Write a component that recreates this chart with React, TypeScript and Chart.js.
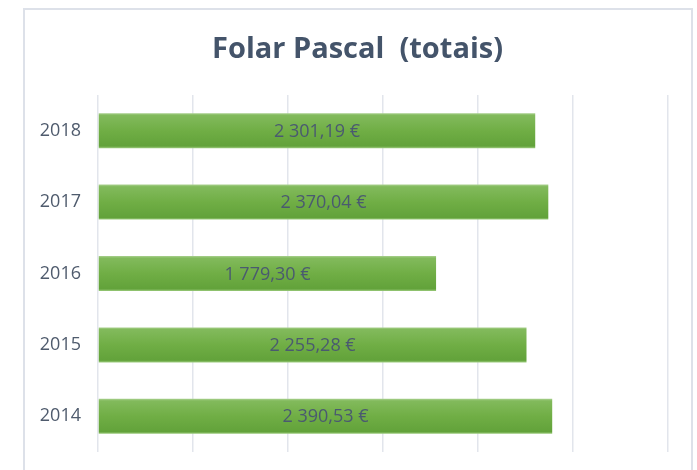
import React, { useEffect, useRef } from "react";
import { Chart, registerables } from "chart.js";

Chart.register(...registerables);

const years = ["2018", "2017", "2016", "2015", "2014"];
const totals = [2301.19, 2370.04, 1779.3, 2255.28, 2390.53];
const axisMin = 0;
const axisMax = 3000;
const axisStep = 500;
const chartTitle = "Folar Pascal  (totais)";

function formatEuro(v: number): string {
  const [intPart, dec] = v.toFixed(2).split(".");
  const grouped = intPart.replace(/\B(?=(\d{3})+(?!\d))/g, " ");
  return `${grouped},${dec} €`;
}

const valueLabels = {
  id: "valueLabels",
  afterDatasetsDraw(chart: any) {
    const ctx = chart.ctx;
    const meta = chart.getDatasetMeta(0);
    ctx.save();
    ctx.font = "18px 'Open Sans'";
    ctx.fillStyle = "#4a5a70";
    ctx.textAlign = "center";
    ctx.textBaseline = "middle";
    meta.data.forEach((bar: any, i: number) => {
      const x = (bar.x + bar.base) / 2;
      ctx.fillText(formatEuro(totals[i]), x, bar.y + 1);
    });
    ctx.restore();
  },
};

// Title centred on the framed panel (not on the padded layout box)
const panelTitle = {
  id: "panelTitle",
  afterDraw(chart: any) {
    const ctx = chart.ctx;
    ctx.save();
    ctx.font = "bold 29px 'Open Sans'";
    ctx.fillStyle = "#44546a";
    ctx.textAlign = "center";
    ctx.textBaseline = "middle";
    ctx.fillText(chartTitle, chart.width / 2, 39.4);
    ctx.restore();
  },
};

export default function App() {
  const canvasRef = useRef<HTMLCanvasElement | null>(null);

  useEffect(() => {
    if (!canvasRef.current) return;
    const chart = new Chart(canvasRef.current, {
      type: "bar",
      data: {
        labels: years,
        datasets: [
          {
            data: totals,
            barPercentage: 0.49,
            categoryPercentage: 1,
            borderWidth: 0,
            backgroundColor: (c: any) => {
              const ch = c.chart;
              const y = ch.scales?.y;
              if (!ch.chartArea || !y || c.dataIndex === undefined) return "#70ad47";
              const cy = y.getPixelForTick(c.dataIndex);
              const half = (y.height / years.length) * 0.49 / 2;
              const g = ch.ctx.createLinearGradient(0, cy - half, 0, cy + half);
              g.addColorStop(0, "#a9d08e");
              g.addColorStop(0.06, "#82ba5c");
              g.addColorStop(0.5, "#70ae45");
              g.addColorStop(0.94, "#62a23a");
              g.addColorStop(1, "#9ccb7d");
              return g;
            },
          },
        ],
      },
      options: {
        indexAxis: "y",
        animation: false,
        responsive: false,
        maintainAspectRatio: false,
        layout: { padding: { left: 0, right: 22, top: 85, bottom: 18 } },
        plugins: {
          legend: { display: false },
          tooltip: { enabled: false },
          title: { display: false },
        },
        scales: {
          x: {
            min: axisMin,
            max: axisMax,
            ticks: { display: false, stepSize: axisStep },
            grid: { color: "#e2e5ec", lineWidth: 1.5, drawTicks: false },
            border: { display: false },
            afterFit: (s: any) => {
              s.height = 0;
            },
          },
          y: {
            afterFit: (s: any) => {
              s.width = 73;
              s.paddingTop = 0;
              s.paddingBottom = 0;
            },
            ticks: {
              color: "#4f5b6d",
              font: { family: "'Open Sans'", size: 18 },
              padding: 17,
            },
            grid: { display: false, drawTicks: false },
            border: { display: false },
          },
        },
      },
      plugins: [valueLabels, panelTitle],
    } as any);
    return () => chart.destroy();
  }, []);

  return (
    <div style={{ position: "fixed", left: 0, top: 0, width: 697, height: 470, overflow: "hidden", background: "#fff" }}>
      <div
        style={{
          position: "absolute",
          left: 23,
          top: 8,
          width: 670,
          height: 480,
          border: "2px solid #dde1e9",
          boxSizing: "border-box",
        }}
      />
      <canvas
        ref={canvasRef}
        width={665}
        height={460}
        style={{ position: "absolute", left: 25, top: 10, width: 665, height: 460 }}
      />
    </div>
  );
}
